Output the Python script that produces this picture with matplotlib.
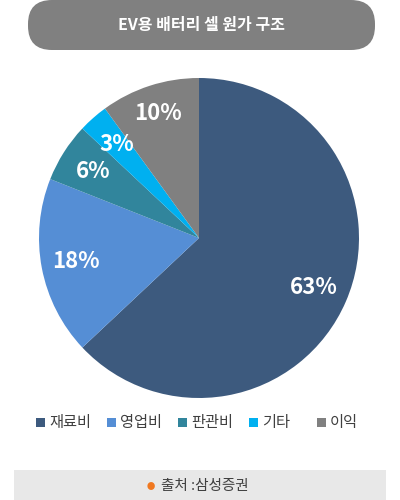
import matplotlib.pyplot as plt
from matplotlib.patches import FancyBboxPatch, Rectangle

plt.rcParams['font.family'] = ['Noto Sans CJK KR', 'DejaVu Sans']

title = "EV용 배터리 셀 원가 구조"
categories = ["재료비", "영업비", "판관비", "기타", "이익"]
shares = [63, 18, 6, 3, 10]
source = "출처 :삼성증권"

colors = ["#3D5A7E", "#558ED5", "#31859C", "#00B0F0", "#808080"]
legend_x = [36, 107, 178, 249, 317]  # pixel positions of legend squares

fig = plt.figure(figsize=(4, 5), dpi=100)

# background axes in pixel units for the boxes and legend
bg = fig.add_axes([0, 0, 1, 1])
bg.set_xlim(0, 400)
bg.set_ylim(500, 0)
bg.axis("off")

# title pill
bg.add_patch(FancyBboxPatch((28, 0), 347, 50, boxstyle="round,pad=0,rounding_size=24",
                            facecolor="#808080", edgecolor="none"))
bg.text(201, 25, title, color="white", fontsize=11.5, fontweight="bold",
        ha="center", va="center")

# pie
ax = fig.add_axes([39 / 400, 1 - 398 / 500, 320 / 400, 320 / 500])
wedges, texts, autotexts = ax.pie(shares, colors=colors, startangle=90, counterclock=False,
                                  autopct="%d%%", pctdistance=0.78, radius=1,
                                  wedgeprops=dict(linewidth=0))
for t in autotexts:
    t.set_color("white")
    t.set_fontsize(16)
    t.set_fontweight("bold")
# profit label sits a bit further out
x, y = autotexts[4].get_position()
autotexts[4].set_position((x * 0.82 / 0.78, y * 0.82 / 0.78))
ax.set_xlim(-1, 1)
ax.set_ylim(-1, 1)
ax.set_aspect("equal")
ax.axis("off")

# legend
for x, lab, c in zip(legend_x, categories, colors):
    bg.add_patch(Rectangle((x, 418), 9, 9, facecolor=c, edgecolor="none"))
    bg.text(x + 13, 422, lab, fontsize=11, color="#404040", ha="left", va="center")

# source box
bg.add_patch(Rectangle((14, 470), 372, 30, facecolor="#E8E8E8", edgecolor="none"))
bg.text(151, 486, "●", fontsize=6, color="#F07820", ha="center", va="center")
bg.text(161, 486, source, fontsize=10.5, color="#404040", ha="left", va="center")

fig.savefig("out.png", dpi=100)
